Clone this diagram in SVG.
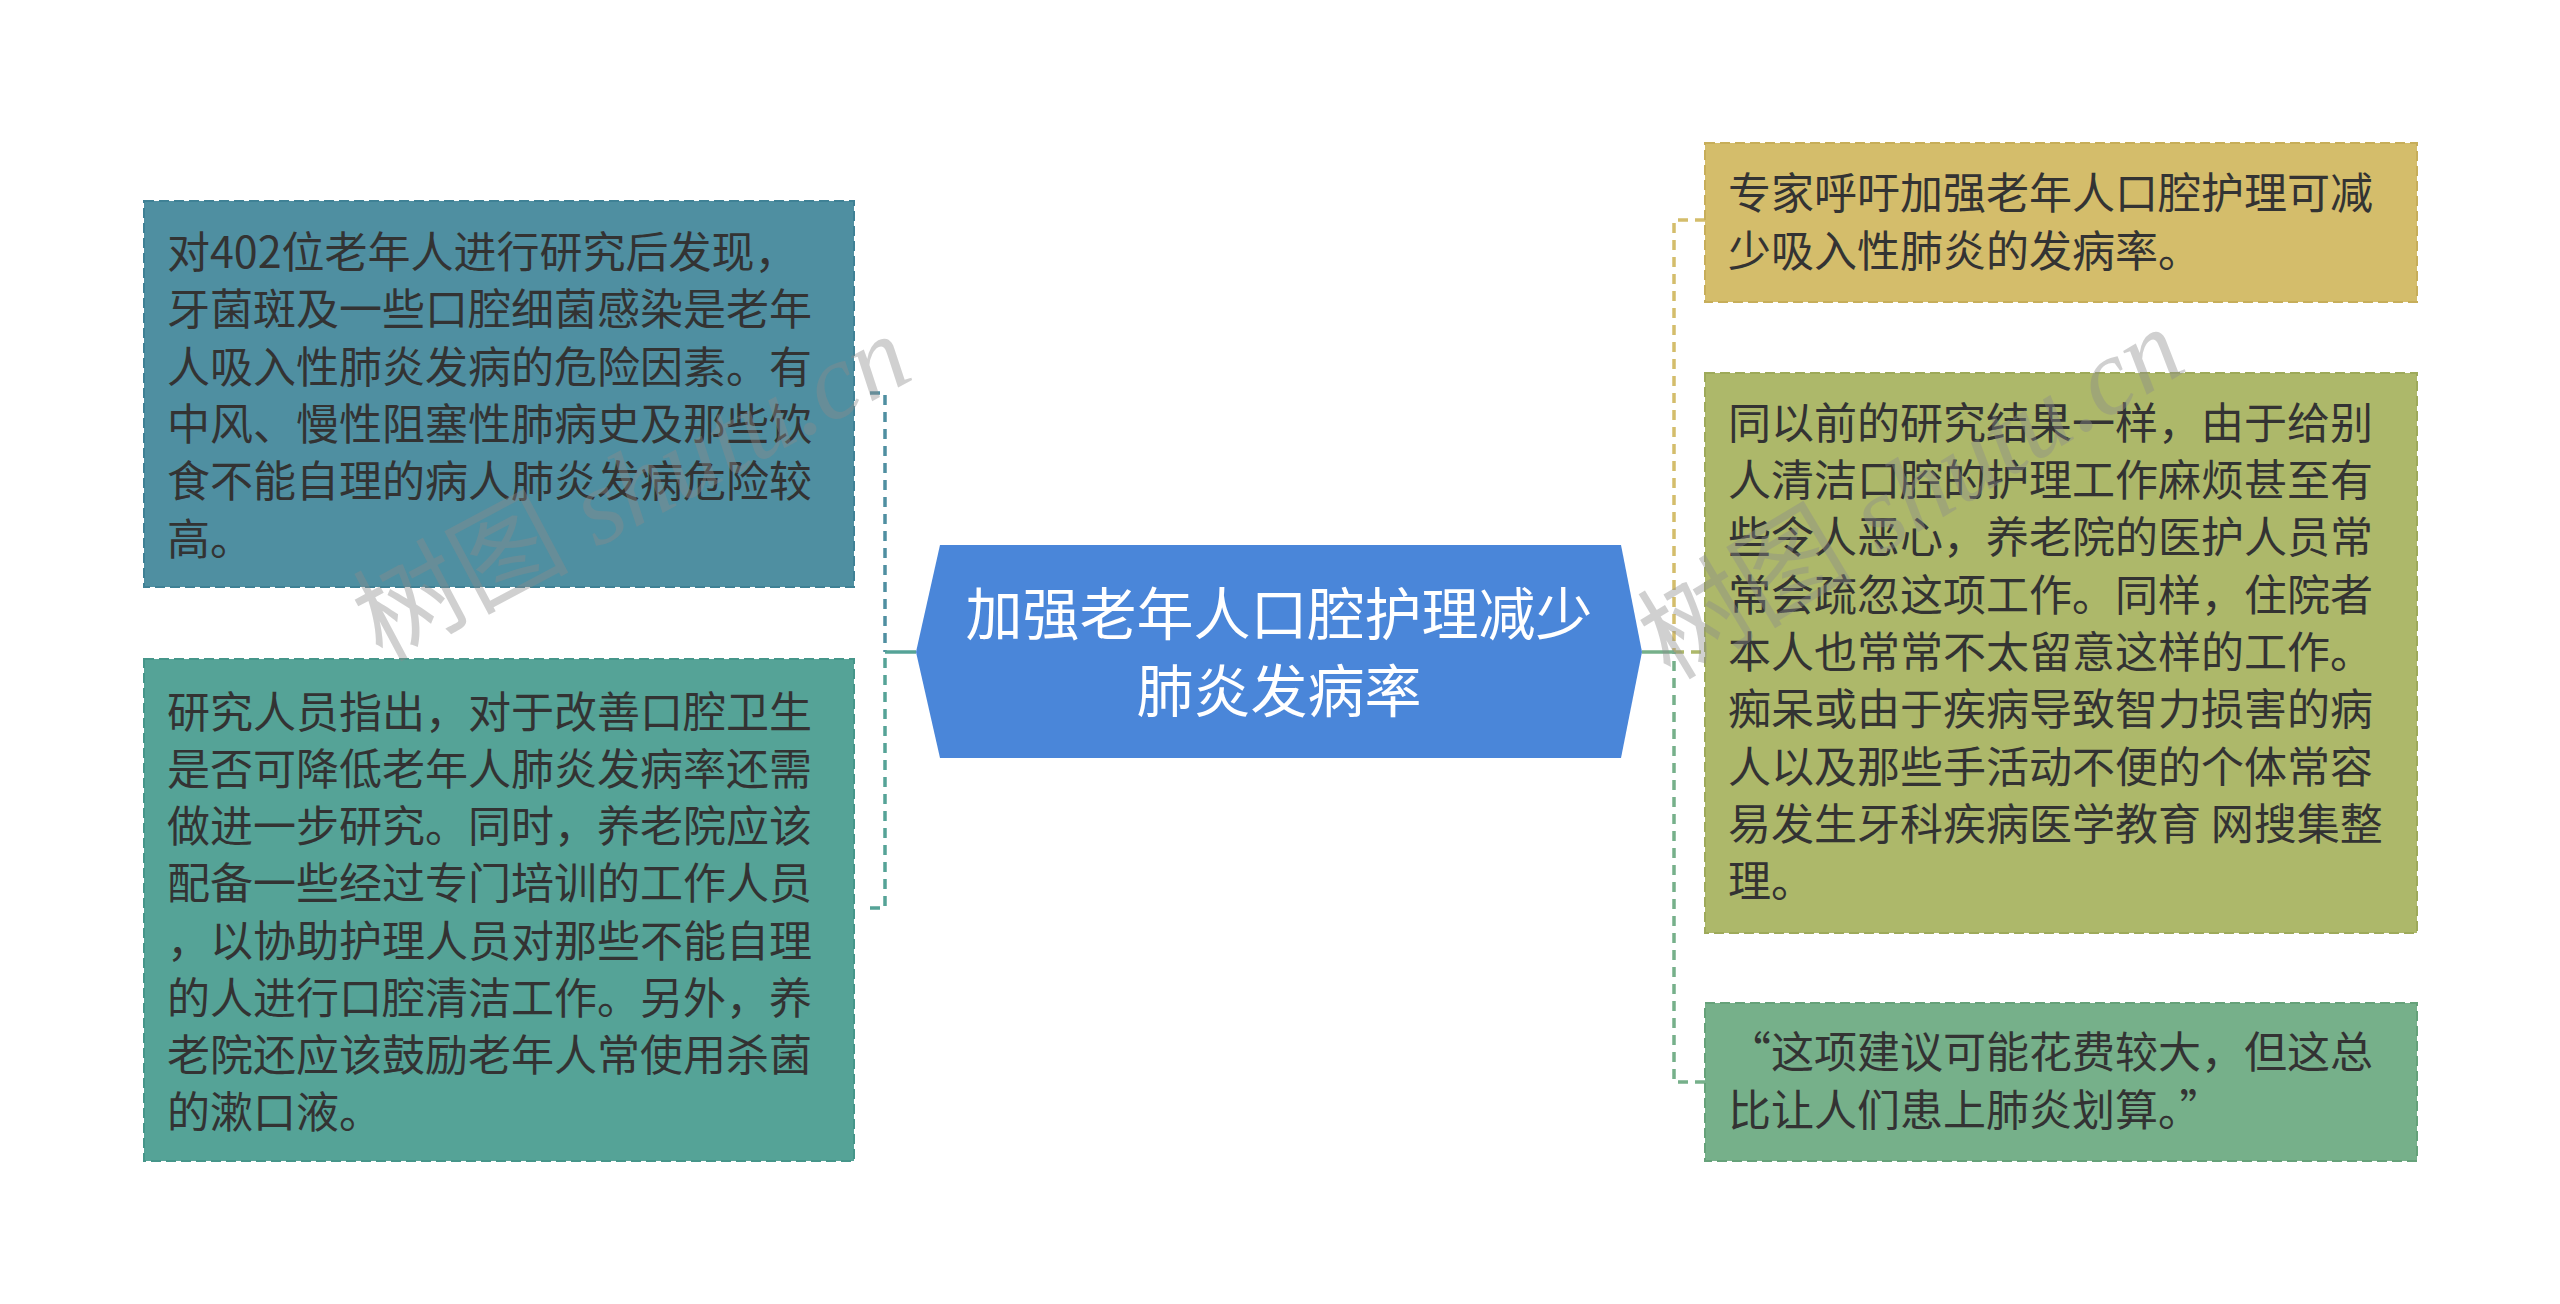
<svg xmlns="http://www.w3.org/2000/svg" width="2560" height="1304" viewBox="0 0 2560 1304">
<style>
.t{font-family:"Noto Sans CJK SC","Noto Sans CJK TC",sans-serif;font-size:43px;fill:#333333}
.c{font-family:"Noto Sans CJK SC","Noto Sans CJK TC",sans-serif;font-size:57px;fill:#ffffff;text-anchor:middle}
.box{stroke-width:2;stroke-dasharray:10 5}
.ln{fill:none;stroke-width:3.5;stroke-dasharray:10 7}
.wm{font-family:"Liberation Serif",serif;font-size:108px;fill:#8c8c8c;opacity:0.4}
</style>
<rect width="2560" height="1304" fill="#ffffff"/>
<g id="connectors">
<path class="ln" stroke="#4f8fa1" d="M870,393 H885 V652"/>
<path class="ln" stroke="#55a397" d="M870,908 H885 V652"/>
<line x1="885" y1="652" x2="916" y2="652" stroke="#55a397" stroke-width="3.5"/>
<path class="ln" stroke="#d4bd6b" d="M1705,220 H1674 V652"/>
<path class="ln" stroke="#adb86a" d="M1674,652 H1705"/>
<path class="ln" stroke="#76b08a" d="M1705,1082 H1674 V652"/>
<line x1="1642" y1="652" x2="1674" y2="652" stroke="#76b08a" stroke-width="3.5"/>
</g>
<g id="center">
<polygon points="940,545 1621,545 1642,652 1621,758 940,758 916,652" fill="#4a86d9"/>
<text class="c" x="1279" y="635">加强老年人口腔护理减少</text>
<text class="c" x="1279" y="712">肺炎发病率</text>
</g>
<g id="left1">
<rect class="box" x="144" y="201" width="710" height="386" fill="#4f8fa1" stroke="#3f8195"/>
<text class="t" x="167" y="268">对402位老年人进行研究后发现，</text>
<text class="t" x="167" y="325">牙菌斑及一些口腔细菌感染是老年</text>
<text class="t" x="167" y="383">人吸入性肺炎发病的危险因素。有</text>
<text class="t" x="167" y="440">中风、慢性阻塞性肺病史及那些饮</text>
<text class="t" x="167" y="497">食不能自理的病人肺炎发病危险较</text>
<text class="t" x="167" y="555">高。</text>
</g>
<g id="left2">
<rect class="box" x="144" y="659" width="710" height="502" fill="#55a397" stroke="#46968a"/>
<text class="t" x="167" y="728">研究人员指出，对于改善口腔卫生</text>
<text class="t" x="167" y="785">是否可降低老年人肺炎发病率还需</text>
<text class="t" x="167" y="842">做进一步研究。同时，养老院应该</text>
<text class="t" x="167" y="899">配备一些经过专门培训的工作人员</text>
<text class="t" x="167" y="957">，以协助护理人员对那些不能自理</text>
<text class="t" x="167" y="1014">的人进行口腔清洁工作。另外，养</text>
<text class="t" x="167" y="1071">老院还应该鼓励老年人常使用杀菌</text>
<text class="t" x="167" y="1128">的漱口液。</text>
</g>
<g id="right1">
<rect class="box" x="1705" y="143" width="712" height="159" fill="#d4bd6b" stroke="#c7ae5a"/>
<text class="t" x="1728" y="209">专家呼吁加强老年人口腔护理可减</text>
<text class="t" x="1728" y="267">少吸入性肺炎的发病率。</text>
</g>
<g id="right2">
<rect class="box" x="1705" y="373" width="712" height="560" fill="#adb86a" stroke="#9eaa5a"/>
<text class="t" x="1728" y="439">同以前的研究结果一样，由于给别</text>
<text class="t" x="1728" y="496">人清洁口腔的护理工作麻烦甚至有</text>
<text class="t" x="1728" y="553">些令人恶心，养老院的医护人员常</text>
<text class="t" x="1728" y="611">常会疏忽这项工作。同样，住院者</text>
<text class="t" x="1728" y="668">本人也常常不太留意这样的工作。</text>
<text class="t" x="1728" y="725">痴呆或由于疾病导致智力损害的病</text>
<text class="t" x="1728" y="783">人以及那些手活动不便的个体常容</text>
<text class="t" x="1728" y="840">易发生牙科疾病医学教育 网搜集整</text>
<text class="t" x="1728" y="897">理。</text>
</g>
<g id="right3">
<rect class="box" x="1705" y="1003" width="712" height="158" fill="#76b08a" stroke="#66a27a"/>
<text class="t" x="1728" y="1068">“这项建议可能花费较大，但这总</text>
<text class="t" x="1728" y="1126">比让人们患上肺炎划算。”</text>
</g>
<g id="watermarks">
<text class="wm" transform="translate(649,520) rotate(-28)" text-anchor="middle"><tspan font-family="Noto Sans CJK SC,sans-serif">树图</tspan> <tspan font-style="italic">shutu.cn</tspan></text>
<text class="wm" transform="translate(1930,525) rotate(-31)" text-anchor="middle"><tspan font-family="Noto Sans CJK SC,sans-serif">树图</tspan> <tspan font-style="italic">shutu.cn</tspan></text>
</g>
</svg>
